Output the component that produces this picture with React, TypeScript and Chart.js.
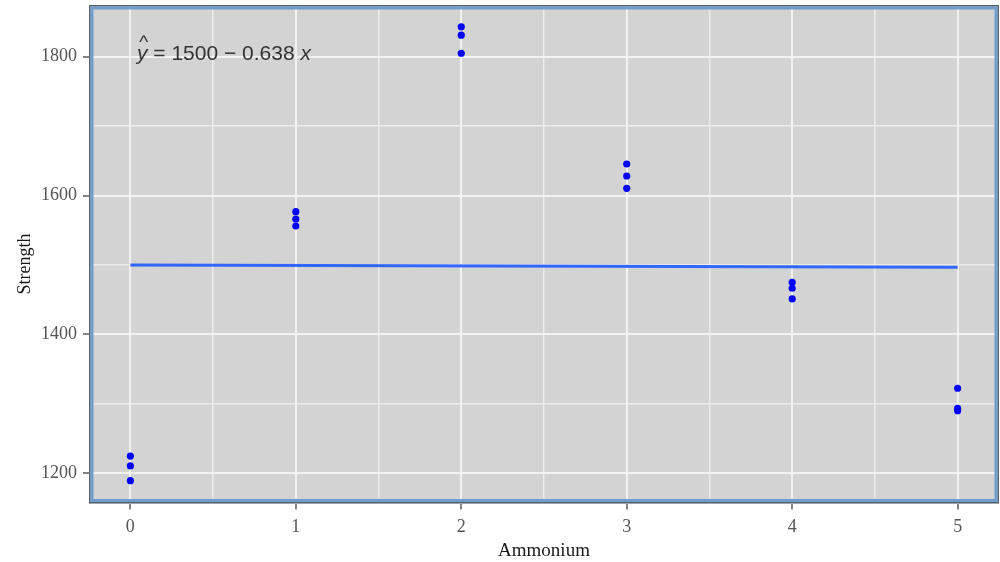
import React, { useEffect, useRef } from "react";
import { Chart, registerables } from "chart.js";

Chart.register(...registerables);

// ---- data ----
const ammonium = [0, 0, 0, 1, 1, 1, 2, 2, 2, 3, 3, 3, 4, 4, 4, 5, 5, 5];
const strength = [
  1224.8, 1210.6, 1189.4,
  1576.8, 1566.3, 1556.2,
  1843.0, 1831.0, 1805.0,
  1645.5, 1628.2, 1610.5,
  1475.1, 1466.5, 1451.1,
  1322.5, 1293.7, 1290.2,
];
const fitIntercept = 1500;
const fitSlope = -0.638;
const fitRange = [0, 5];

const xTickValues = [0, 0.5, 1, 1.5, 2, 2.5, 3, 3.5, 4, 4.5, 5];
const xTickLabels = ["0", "", "1", "", "2", "", "3", "", "4", "", "5"];
const yTickValues = [1200, 1300, 1400, 1500, 1600, 1700, 1800];
const yTickLabels = ["1200", "", "1400", "", "1600", "", "1800"];

const xTitle = "Ammonium";
const yTitle = "Strength";

const X_MIN = -0.25;
const X_MAX = 5.25;
const Y_MIN = 1156.5;
const Y_MAX = 1874.5;

const SERIF = "'Liberation Serif', 'Times New Roman', serif";
const SANS = "'Liberation Sans', Arial, sans-serif";

const panelPlugin = {
  id: "panelPlugin",
  beforeDraw(chart: any) {
    const { ctx, chartArea } = chart;
    const { left, top, right, bottom } = chartArea;
    ctx.save();
    ctx.fillStyle = "#D3D3D3";
    ctx.fillRect(left, top, right - left, bottom - top);
    ctx.restore();
  },
  afterDatasetsDraw(chart: any) {
    const { ctx, scales } = chart;
    const xs = scales.x;
    const ys = scales.y;
    // regression equation annotation
    const px = xs.getPixelForValue(0.04);
    const py = ys.getPixelForValue(1795);
    ctx.save();
    ctx.fillStyle = "#333333";
    ctx.textBaseline = "alphabetic";
    ctx.textAlign = "left";
    ctx.font = `italic 21px ${SANS}`;
    ctx.fillText("y", px, py);
    const yw = ctx.measureText("y").width;
    ctx.font = `19px ${SANS}`;
    ctx.textAlign = "center";
    ctx.fillText("^", px + yw / 2 + 1.5, py - 12);
    ctx.textAlign = "left";
    ctx.font = `21px ${SANS}`;
    const mid = " = 1500 \u2212 0.638 ";
    ctx.fillText(mid, px + yw, py);
    const mw = ctx.measureText(mid).width;
    ctx.font = `italic 21px ${SANS}`;
    ctx.fillText("x", px + yw + mw, py);
    ctx.restore();
  },
  afterDraw(chart: any) {
    const { ctx, chartArea } = chart;
    const { left, top, right, bottom } = chartArea;
    ctx.save();
    // panel border: dark outer line + blue band
    ctx.strokeStyle = "#55626e";
    ctx.lineWidth = 1.5;
    ctx.strokeRect(left + 0.75, top + 0.75, right - left - 1.5, bottom - top - 1.5);
    ctx.strokeStyle = "#6f9dcc";
    ctx.lineWidth = 3;
    ctx.strokeRect(left + 3, top + 3, right - left - 6, bottom - top - 6);
    // axis titles
    ctx.fillStyle = "#1a1a1a";
    ctx.textAlign = "center";
    ctx.textBaseline = "middle";
    ctx.font = `19px ${SERIF}`;
    ctx.fillText(xTitle, (left + right) / 2, 551);
    ctx.translate(25, 264);
    ctx.rotate(-Math.PI / 2);
    ctx.font = `18px ${SERIF}`;
    ctx.fillText(yTitle, 0, 0);
    ctx.restore();
  },
};

export default function App() {
  const canvasRef = useRef<HTMLCanvasElement | null>(null);

  useEffect(() => {
    const canvas = canvasRef.current;
    if (!canvas) return;
    const points = ammonium.map((a, i) => ({ x: a, y: strength[i] }));
    const fitPoints = fitRange.map((a) => ({ x: a, y: fitIntercept + fitSlope * a }));

    const chart = new Chart(canvas, {
      type: "scatter",
      data: {
        datasets: [
          {
            label: "fit",
            data: fitPoints,
            showLine: true,
            borderColor: "#3366FF",
            borderWidth: 3,
            pointRadius: 0,
            order: 2,
          } as any,
          {
            label: "observations",
            data: points,
            backgroundColor: "#0000FF",
            borderColor: "#0000FF",
            borderWidth: 0,
            pointRadius: 3.6,
            order: 1,
          },
        ],
      },
      options: {
        responsive: false,
        animation: false,
        devicePixelRatio: 1,
        layout: { autoPadding: false, padding: { left: 0, right: 1, top: 5, bottom: 0 } },
        plugins: {
          legend: { display: false },
          tooltip: { enabled: false },
        },
        scales: {
          x: {
            type: "linear",
            min: X_MIN,
            max: X_MAX,
            afterBuildTicks: (s: any) => {
              s.ticks = xTickValues.map((v) => ({ value: v }));
            },
            afterFit: (s: any) => {
              s.height = 58.5;
              s.paddingLeft = 0;
              s.paddingRight = 0;
            },
            ticks: {
              autoSkip: false,
              maxRotation: 0,
              padding: 7,
              color: "#555555",
              font: { family: SERIF, size: 18 },
              callback: (_v: any, i: number) => xTickLabels[i],
            },
            grid: {
              drawOnChartArea: true,
              color: (c: any) => (Number.isInteger(c.tick?.value) ? "#F2F2F2" : "#EBEBEB"),
              lineWidth: (c: any) => (Number.isInteger(c.tick?.value) ? 2 : 1.5),
              tickLength: 6,
              tickColor: (c: any) => (Number.isInteger(c.tick?.value) ? "#333333" : "rgba(0,0,0,0)"),
              tickWidth: 1.2,
            },
            border: { display: false },
          },
          y: {
            type: "linear",
            min: Y_MIN,
            max: Y_MAX,
            afterBuildTicks: (s: any) => {
              s.ticks = yTickValues.map((v) => ({ value: v }));
            },
            afterFit: (s: any) => {
              s.width = 89;
              s.paddingTop = 0;
              s.paddingBottom = 0;
            },
            ticks: {
              autoSkip: false,
              padding: 6,
              color: "#555555",
              font: { family: SERIF, size: 18 },
              callback: (_v: any, i: number) => yTickLabels[i],
            },
            grid: {
              drawOnChartArea: true,
              color: (c: any) => (c.tick && c.tick.value % 200 === 0 ? "#F2F2F2" : "#EBEBEB"),
              lineWidth: (c: any) => (c.tick && c.tick.value % 200 === 0 ? 2 : 1.5),
              tickLength: 6,
              tickColor: (c: any) => (c.tick && c.tick.value % 200 === 0 ? "#333333" : "rgba(0,0,0,0)"),
              tickWidth: 1.2,
            },
            border: { display: false },
          },
        },
      },
      plugins: [panelPlugin],
    } as any);

    return () => {
      chart.destroy();
    };
  }, []);

  return (
    <div style={{ position: "absolute", left: 0, top: 0, width: 1000, height: 562, background: "#ffffff" }}>
      <canvas ref={canvasRef} width={1000} height={562} style={{ width: 1000, height: 562, display: "block" }} />
    </div>
  );
}
